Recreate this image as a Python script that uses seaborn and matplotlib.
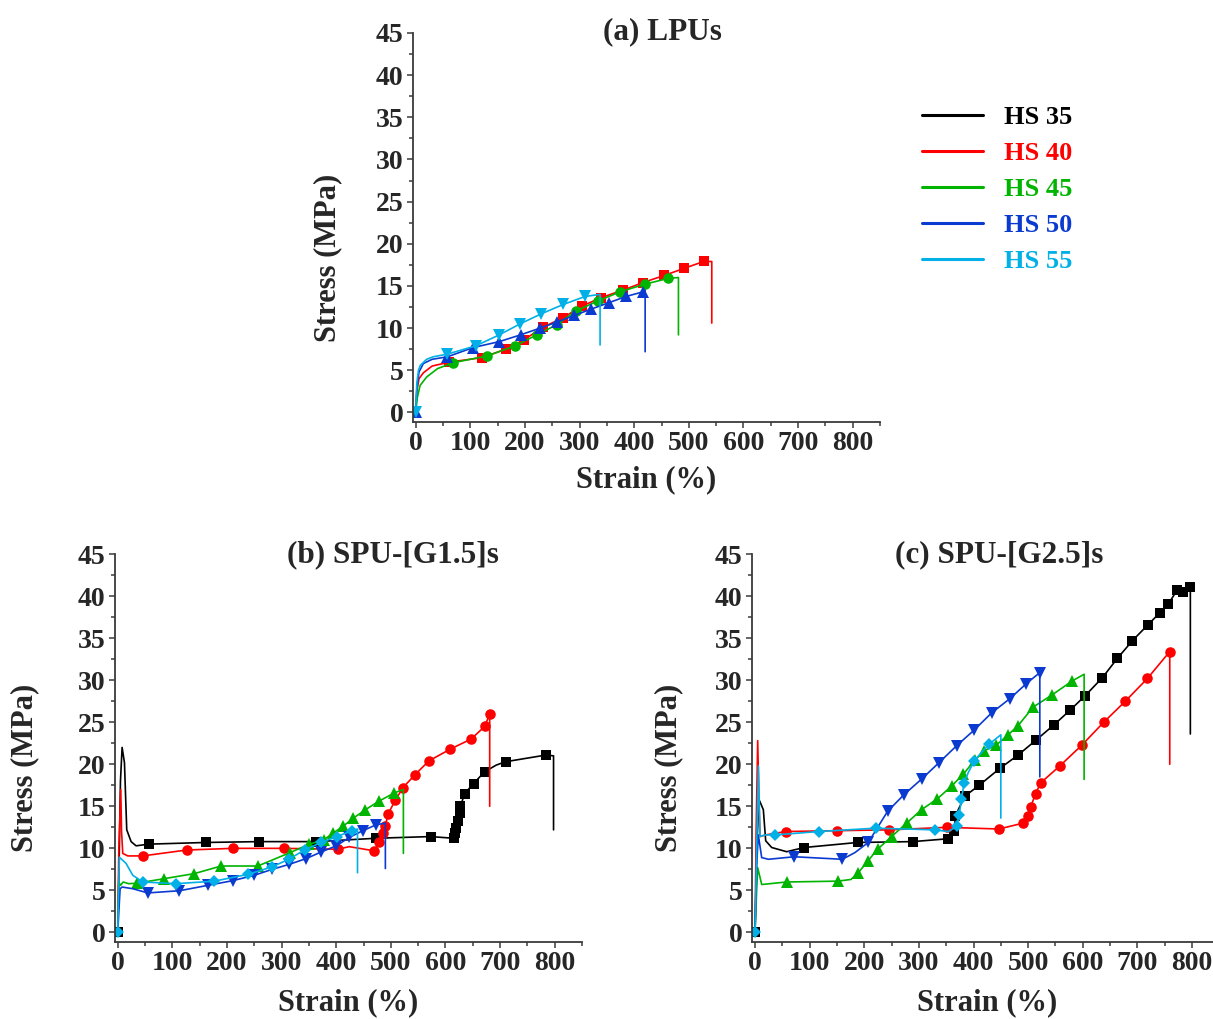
import numpy as np
import matplotlib
matplotlib.use("Agg")
import matplotlib.pyplot as plt
from matplotlib.ticker import MultipleLocator
from matplotlib.lines import Line2D
import seaborn as sns

# ---------------- data ----------------
series_names = ["HS 35", "HS 40", "HS 45", "HS 50", "HS 55"]
series_colors = ["#000000", "#ff0000", "#00b400", "#0a3ad0", "#00b0e6"]
markers_a = [None, "s", "o", "^", "v"]
markers_bc = ["s", "o", "^", "v", "D"]

# (a) LPUs  (no HS 35 curve)
a_hs40_x = [0, 2, 6, 14, 30, 60, 121, 165, 198, 232.6, 269, 304, 339, 379, 416, 455, 492, 527, 542, 542]
a_hs40_y = [0, 2.5, 4.0, 4.7, 5.5, 5.95, 6.5, 7.5, 8.6, 10.1, 11.2, 12.6, 13.6, 14.5, 15.4, 16.25, 17.1, 17.9, 17.9, 10.6]
a_hs40_m = [0, 0, 0, 0, 0, 1, 1, 1, 1, 1, 1, 1, 1, 1, 1, 1, 1, 1, 0, 0]

a_hs45_x = [0, 3, 8, 20, 40, 69, 131, 182, 221.6, 258, 293.6, 333, 374, 419, 462.6, 481, 481]
a_hs45_y = [0, 1.8, 3.2, 4.2, 5.2, 5.9, 6.7, 7.9, 9.2, 10.4, 12.05, 13.2, 14.3, 15.2, 15.9, 16.0, 9.2]
a_hs45_m = [0, 0, 0, 0, 0, 1, 1, 1, 1, 1, 1, 1, 1, 1, 1, 0, 0]

a_hs50_x = [0, 2, 6, 14, 30, 58, 105.5, 153, 192, 227.6, 258, 290, 321, 353, 385, 416, 420, 420]
a_hs50_y = [0, 2.8, 4.8, 5.8, 6.3, 6.6, 7.7, 8.4, 9.2, 10.0, 10.7, 11.5, 12.25, 13.0, 13.75, 14.3, 14.5, 7.2]
a_hs50_m = [1, 0, 0, 0, 0, 1, 1, 1, 1, 1, 1, 1, 1, 1, 1, 1, 0, 0]

a_hs55_x = [0, 2, 5, 8.6, 20, 32, 57, 110, 153, 191, 230, 270, 310, 337.5, 337.5]
a_hs55_y = [0, 3.5, 5.0, 5.6, 6.3, 6.6, 6.9, 7.9, 9.2, 10.5, 11.7, 12.8, 13.75, 14.0, 8.0]
a_hs55_m = [1, 0, 0, 0, 0, 0, 1, 1, 1, 1, 1, 1, 1, 0, 0]

# (b) SPU-[G1.5]s
b_hs35_x = [0, 3, 5, 8, 12.3, 16.5, 24.5, 33.6, 56.8, 161.8, 259, 363, 473, 572.7, 615, 616.6, 619.7, 622.5, 626, 627.5, 635, 651.4, 671.6, 693, 710, 784.5, 797.9, 797.9]
b_hs35_y = [0, 10, 18, 22.0, 20.2, 12.2, 10.8, 10.3, 10.5, 10.7, 10.8, 10.8, 11.2, 11.4, 11.2, 11.8, 12.4, 13.2, 14.2, 15.0, 16.5, 17.7, 19.1, 19.9, 20.3, 21.1, 21.0, 12.2]
b_hs35_m = [1, 0, 0, 0, 0, 0, 0, 0, 1, 1, 1, 1, 1, 1, 1, 1, 1, 1, 1, 1, 1, 1, 1, 0, 1, 1, 0, 0]

b_hs40_x = [0, 2, 5.5, 7, 9.2, 18.4, 45.8, 126, 210.7, 303.5, 403, 424, 470, 478, 485.4, 490, 495, 508, 522, 543.4, 569.7, 609, 647, 672, 681, 681]
b_hs40_y = [0, 10, 17.0, 12, 9.4, 9.1, 9.1, 9.8, 10.0, 10.0, 9.9, 10.2, 9.7, 10.7, 11.8, 12.7, 14.1, 15.7, 17.2, 18.7, 20.4, 21.8, 23.0, 24.5, 26.0, 15.0]
b_hs40_m = [0, 0, 0, 0, 0, 0, 1, 1, 1, 1, 1, 0, 1, 1, 1, 1, 1, 1, 1, 1, 1, 1, 1, 1, 1, 0]

b_hs45_x = [0, 1.9, 5, 10, 20, 34.8, 85.5, 140.5, 189.3, 256.5, 315.7, 351, 377, 394, 412, 431.6, 453.6, 478, 506.7, 523, 523]
b_hs45_y = [0, 6.0, 5.6, 6.0, 5.8, 5.85, 6.4, 7.0, 7.9, 7.9, 9.5, 10.5, 11.0, 11.8, 12.6, 13.6, 14.6, 15.6, 16.6, 17.0, 9.4]
b_hs45_m = [0, 0, 0, 0, 0, 1, 1, 1, 1, 1, 1, 1, 1, 1, 1, 1, 1, 1, 1, 0, 0]

b_hs50_x = [0, 4.3, 8, 27.5, 55, 113, 165, 210.7, 250, 282.7, 314, 345, 372.5, 400, 424, 448.8, 473, 490, 490]
b_hs50_y = [0, 5.2, 5.4, 5.2, 4.7, 4.96, 5.6, 6.16, 6.8, 7.5, 8.1, 8.78, 9.57, 10.3, 11.3, 12.1, 12.8, 13.0, 7.6]
b_hs50_m = [0, 0, 0, 0, 1, 1, 1, 1, 1, 1, 1, 1, 1, 1, 1, 1, 1, 0, 0]

b_hs55_x = [0, 3, 15.3, 27.5, 45.8, 106.9, 177, 238, 282.7, 313, 342, 372.5, 401, 429, 439, 439]
b_hs55_y = [0, 8.95, 8.2, 6.8, 6.0, 5.8, 6.1, 6.9, 7.8, 8.7, 9.8, 10.7, 11.4, 12.1, 12.3, 7.1]
b_hs55_m = [1, 0, 0, 0, 1, 1, 1, 1, 1, 1, 1, 1, 1, 1, 0, 0]

# (c) SPU-[G2.5]s
c_hs35_x = [0, 3, 7.3, 15.2, 19.5, 30.5, 57.9, 90, 187.8, 288.4, 353.7, 364.6, 367, 384, 410.4, 448, 481.7, 515, 547.6, 576.3, 603.7, 636, 663.5, 691, 719.6, 741, 756.2, 772.7, 783.7, 795.9, 797, 797]
c_hs35_y = [0, 10, 15.8, 14.6, 10.9, 10.1, 9.6, 10.1, 10.7, 10.8, 11.14, 12.05, 13.9, 16.2, 17.5, 19.5, 21.1, 22.9, 24.7, 26.4, 28.1, 30.3, 32.6, 34.7, 36.6, 38.0, 39.0, 40.7, 40.5, 41.1, 41.1, 23.6]
c_hs35_m = [1, 0, 0, 0, 0, 0, 0, 1, 1, 1, 1, 1, 1, 1, 1, 1, 1, 1, 1, 1, 1, 1, 1, 1, 1, 1, 1, 1, 1, 1, 0, 0]

c_hs40_x = [0, 2, 4.9, 7.3, 9.1, 19.5, 56, 149.4, 245, 350.6, 446.4, 491, 500, 505, 513.5, 523.2, 558, 598.8, 638.5, 678, 718.4, 759.3, 759.3]
c_hs40_y = [0, 12, 22.8, 15.4, 11.4, 11.6, 12.0, 12.1, 12.2, 12.5, 12.3, 13.0, 13.9, 14.96, 16.5, 17.8, 19.8, 22.3, 25.0, 27.5, 30.2, 33.4, 20.0]
c_hs40_m = [0, 0, 0, 0, 0, 0, 1, 1, 1, 1, 1, 1, 1, 1, 1, 1, 1, 1, 1, 1, 1, 1, 0]

c_hs45_x = [0, 3, 4.9, 12.2, 57.9, 151.3, 175.6, 189, 206, 224.4, 250, 277.5, 304.9, 334, 359.8, 381, 402.5, 419.6, 442, 463.4, 481.7, 509.2, 542.8, 580.6, 602.5, 602.5]
c_hs45_y = [0, 5, 7.7, 5.7, 6.0, 6.1, 6.3, 7.1, 8.45, 9.9, 11.4, 13.0, 14.6, 15.9, 17.4, 18.8, 20.5, 21.6, 22.3, 23.5, 24.6, 26.8, 28.2, 29.9, 30.7, 18.2]
c_hs45_m = [0, 0, 0, 0, 1, 1, 0, 1, 1, 1, 1, 1, 1, 1, 1, 1, 1, 1, 1, 1, 1, 1, 1, 1, 0, 0]

c_hs50_x = [0, 3, 6, 12.2, 24.4, 72, 159.8, 183, 207.3, 242.7, 273, 306, 337, 369, 401.3, 433, 466.5, 497, 521.4, 521.4]
c_hs50_y = [0, 8, 11.6, 8.9, 8.7, 9.0, 8.7, 9.5, 10.7, 14.4, 16.4, 18.3, 20.2, 22.2, 24.07, 26.1, 27.8, 29.6, 30.9, 18.5]
c_hs50_m = [0, 0, 0, 0, 0, 1, 1, 0, 1, 1, 1, 1, 1, 1, 1, 1, 1, 1, 1, 0]

c_hs55_x = [0, 3, 6.1, 9.1, 18.3, 36.6, 117, 220.7, 329.3, 353.7, 369, 373.8, 378, 383, 390.3, 401.3, 414.7, 428.7, 450, 450]
c_hs55_y = [0, 10, 19.8, 11.4, 11.6, 11.6, 12.0, 12.4, 12.2, 12.0, 12.6, 14.0, 15.9, 17.8, 19.0, 20.4, 21.4, 22.4, 23.5, 13.6]
c_hs55_m = [1, 0, 0, 0, 0, 1, 1, 1, 1, 0, 1, 1, 1, 1, 0, 1, 0, 1, 0, 0]

x_ticks = [0, 100, 200, 300, 400, 500, 600, 700, 800]
y_ticks = [0, 5, 10, 15, 20, 25, 30, 35, 40, 45]

panel_titles = ["(a) LPUs", "(b) SPU-[G1.5]s", "(c) SPU-[G2.5]s"]
x_label = "Strain (%)"
y_label = "Stress (MPa)"

# ---------------- style ----------------
sns.set_style("ticks")
plt.rcParams["font.family"] = ["Liberation Serif", "DejaVu Serif"]
plt.rcParams["font.weight"] = "bold"
plt.rcParams["axes.labelweight"] = "bold"

W, H = 1213, 1019
fig = plt.figure(figsize=(W / 100, H / 100), dpi=100)
fig.patch.set_facecolor("white")


def px_axes(left, right, bottom, top):
    return fig.add_axes([left / W, 1 - bottom / H, (right - left) / W, (bottom - top) / H])


ax_a = px_axes(413, 880, 421.7, 33)
ax_b = px_axes(115, 582, 941.7, 554)
ax_c = px_axes(752.3, 1219.3, 941.7, 554)

panels = [
    (ax_a, [None,
            (a_hs40_x, a_hs40_y, a_hs40_m),
            (a_hs45_x, a_hs45_y, a_hs45_m),
            (a_hs50_x, a_hs50_y, a_hs50_m),
            (a_hs55_x, a_hs55_y, a_hs55_m)], markers_a),
    (ax_b, [(b_hs35_x, b_hs35_y, b_hs35_m),
            (b_hs40_x, b_hs40_y, b_hs40_m),
            (b_hs45_x, b_hs45_y, b_hs45_m),
            (b_hs50_x, b_hs50_y, b_hs50_m),
            (b_hs55_x, b_hs55_y, b_hs55_m)], markers_bc),
    (ax_c, [(c_hs35_x, c_hs35_y, c_hs35_m),
            (c_hs40_x, c_hs40_y, c_hs40_m),
            (c_hs45_x, c_hs45_y, c_hs45_m),
            (c_hs50_x, c_hs50_y, c_hs50_m),
            (c_hs55_x, c_hs55_y, c_hs55_m)], markers_bc),
]

marker_sizes = {"s": 7.4, "o": 7.6, "^": 8.8, "v": 8.8, "D": 6.6}

spine_col = "#3a3a3a"
for ax, data, mks in panels:
    for i, d in enumerate(data):
        if d is None:
            continue
        xs, ys, ms = d
        idx = list(np.flatnonzero(np.array(ms)))
        sns.lineplot(x=xs, y=ys, ax=ax, sort=False, estimator=None, color=series_colors[i],
                     lw=1.2, marker=mks[i], markevery=idx, markersize=marker_sizes[mks[i]],
                     markeredgewidth=0, legend=False)
    ax.set_xlim(-5, 850)
    ax.set_ylim(-1.1, 45)
    ax.set_xticks(x_ticks)
    ax.set_yticks(y_ticks)
    ax.xaxis.set_minor_locator(MultipleLocator(50))
    ax.yaxis.set_minor_locator(MultipleLocator(2.5))
    ax.tick_params(which="major", direction="out", length=4.5, width=1.1, color=spine_col,
                   labelsize=20, pad=2.5)
    ax.tick_params(which="minor", direction="out", length=3, width=1.1, color=spine_col)
    for lab in ax.get_xticklabels() + ax.get_yticklabels():
        lab.set_fontweight("bold")
    sns.despine(ax=ax)
    for s in ("left", "bottom"):
        ax.spines[s].set_color(spine_col)
        ax.spines[s].set_linewidth(1.3)
    ax.set_xlabel(x_label, fontsize=22, fontweight="bold")
    ax.set_ylabel(y_label, fontsize=22, fontweight="bold")
    ax.xaxis.label.set_va("center")
    ax.yaxis.label.set_va("center")
    ax.set_facecolor("white")

ax_a.xaxis.set_label_coords(0.499, -0.15)
ax_a.yaxis.set_label_coords(-0.182, 0.421)
ax_b.xaxis.set_label_coords(0.499, -0.158)
ax_b.yaxis.set_label_coords(-0.193, 0.448)
ax_c.xaxis.set_label_coords(0.503, -0.158)
ax_c.yaxis.set_label_coords(-0.180, 0.448)

ax_a.text(0.535, 1.004, panel_titles[0], transform=ax_a.transAxes, ha="center", va="center",
          fontsize=22.5, fontweight="bold")
ax_b.text(0.595, 0.998, panel_titles[1], transform=ax_b.transAxes, ha="center", va="center",
          fontsize=22.5, fontweight="bold")
ax_c.text(0.528, 0.998, panel_titles[2], transform=ax_c.transAxes, ha="center", va="center",
          fontsize=22.5, fontweight="bold")

handles = [Line2D([0], [0], color=c, lw=2.2) for c in series_colors]
leg = fig.legend(handles, series_names, loc="upper left", bbox_to_anchor=(922 / W, 1 - 106 / H),
                 frameon=False, borderpad=0, borderaxespad=0, handlelength=2.3,
                 handletextpad=0.8, labelspacing=0.47,
                 prop={"family": "Liberation Serif", "weight": "bold", "size": 19})
for t, c in zip(leg.get_texts(), series_colors):
    t.set_color(c)

fig.savefig("out.png", dpi=100, facecolor="white")
